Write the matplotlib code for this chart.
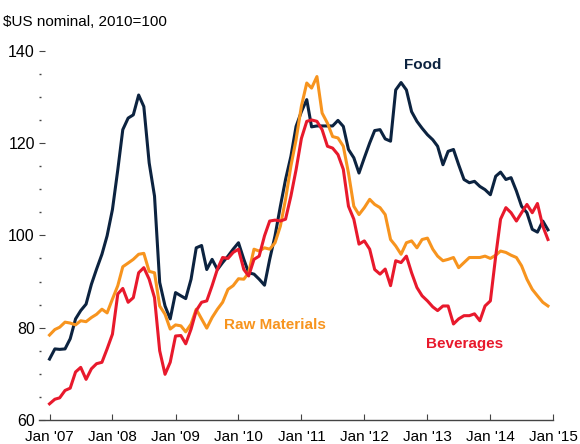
import numpy as np
import pandas as pd
import matplotlib
matplotlib.use('Agg')
import matplotlib.pyplot as plt
from matplotlib.ticker import MultipleLocator

# monthly index values, Jan 2007 - Dec 2014
food = [73.2, 75.4, 75.3, 75.4, 77.6, 81.9, 83.7, 85.1, 89.4, 92.7, 95.9, 99.9,
        105.6, 114.2, 122.9, 125.4, 126.1, 130.4, 127.9, 115.7, 108.5, 89.8, 84.7, 81.9,
        87.6, 86.9, 86.3, 90.5, 97.3, 97.8, 92.6, 94.8, 92.6, 94.1, 95.5, 97.0,
        98.4, 94.8, 91.9, 91.6, 90.5, 89.2, 94.8, 99.9, 106.3, 112.1, 117.1, 123.6,
        126.8, 129.4, 123.5, 123.7, 123.7, 123.7, 123.7, 124.9, 123.6, 118.6, 116.8, 113.5,
        116.8, 120.0, 122.7, 122.9, 120.9, 120.4, 131.5, 133.1, 131.5, 126.8, 124.7, 123.2,
        121.8, 120.7, 119.3, 115.3, 118.2, 118.6, 115.3, 112.1, 111.4, 111.7, 110.6, 109.9,
        108.8, 112.8, 113.7, 112.1, 112.5, 109.6, 106.3, 104.9, 101.3, 100.7, 103.1, 101.2]

raw_materials = [78.4, 79.6, 80.1, 81.2, 81.0, 80.6, 81.5, 81.3, 82.2, 82.9, 84.0, 83.2,
                 86.2, 89.1, 93.2, 94.0, 94.8, 95.9, 96.1, 92.2, 91.9, 84.7, 82.9, 79.7,
                 80.6, 80.4, 79.1, 80.8, 84.0, 81.9, 79.9, 82.2, 84.0, 85.5, 88.3, 89.1,
                 90.6, 90.5, 91.9, 97.0, 96.6, 97.3, 97.0, 98.4, 102.0, 107.8, 115.0, 120.7,
                 128.0, 133.0, 131.9, 134.4, 126.5, 124.3, 121.4, 121.1, 119.3, 113.5, 106.3, 104.5,
                 106.0, 107.8, 106.7, 106.0, 104.5, 99.1, 97.7, 95.9, 98.4, 98.8, 97.3, 99.1,
                 99.4, 97.0, 95.5, 94.5, 94.8, 95.2, 93.0, 94.1, 95.2, 95.2, 95.2, 95.5,
                 95.0, 95.7, 96.6, 96.3, 95.7, 95.2, 93.4, 90.5, 88.3, 86.9, 85.5, 84.7]

beverages = [63.5, 64.5, 64.8, 66.4, 66.9, 70.4, 71.4, 68.8, 71.1, 72.2, 72.5, 75.4,
             78.6, 87.3, 88.5, 85.5, 86.5, 91.9, 93.0, 90.5, 86.5, 75.0, 69.9, 72.5,
             78.2, 78.3, 76.5, 79.7, 83.7, 85.5, 85.8, 89.1, 92.7, 95.2, 95.0, 96.3,
             97.0, 92.6, 91.2, 94.8, 95.5, 99.9, 103.1, 103.3, 103.1, 103.5, 108.5, 114.2,
             121.0, 124.7, 125.0, 124.7, 122.9, 119.3, 118.9, 117.5, 114.3, 106.3, 103.5, 98.1,
             98.8, 97.0, 92.6, 91.6, 92.7, 89.1, 94.5, 94.1, 95.5, 91.9, 88.7, 86.9,
             85.8, 84.5, 83.7, 84.7, 84.7, 80.8, 81.9, 82.6, 82.6, 83.0, 81.5, 84.7,
             85.8, 95.5, 103.5, 106.0, 104.9, 103.1, 104.9, 106.7, 104.9, 106.9, 102.0, 99.1]

dates = pd.date_range('2007-01-01', periods=len(food), freq='MS')
tick_years = list(range(2007, 2016))

navy = '#0c2340'
orange = '#f7941e'
red = '#e8192c'

plt.rcParams['font.family'] = ['Liberation Sans', 'DejaVu Sans']

fig = plt.figure(figsize=(5.8, 4.44), dpi=100)
ax = fig.add_axes([39 / 580, 1 - 420 / 444, (553.3 - 39) / 580, (420 - 50.7) / 444])

ax.plot(dates, food, color=navy, lw=2.2, solid_joinstyle='round')
ax.plot(dates, raw_materials, color=orange, lw=2.2, solid_joinstyle='round')
ax.plot(dates, beverages, color=red, lw=2.2, solid_joinstyle='round')

ax.set_ylim(60, 140)
ax.set_xlim(pd.Timestamp('2006-11-01'), pd.Timestamp('2015-01-01'))

ticks = [pd.Timestamp('%d-01-01' % y) for y in tick_years]
ax.set_xticks(ticks)
ax.set_xticklabels(["Jan '%02d" % (y % 100) for y in tick_years], fontsize=11)
ax.tick_params(axis='x', direction='in', length=4, width=0.8, color='#444444', pad=7)

ax.yaxis.set_major_locator(MultipleLocator(20))
ax.yaxis.set_minor_locator(MultipleLocator(5))
ax.tick_params(axis='y', which='major', direction='in', length=4, width=0.8,
               color='#444444', labelsize=11.5, pad=3)
ax.tick_params(axis='y', which='minor', direction='in', length=1.2, width=1.0,
               color='#444444')

for s in ['top', 'right', 'left']:
    ax.spines[s].set_visible(False)
ax.spines['bottom'].set_color('#444444')
ax.spines['bottom'].set_linewidth(1.0)

fig.text(3 / 580, 1 - 22 / 444, '$US nominal, 2010=100', fontsize=11, va='center', ha='left')

ax.text(pd.Timestamp('2012-12-05'), 137.0, 'Food', color=navy, fontsize=11,
        fontweight='bold', ha='center', va='center')
ax.text(pd.Timestamp('2010-08-01'), 80.6, 'Raw Materials', color=orange, fontsize=11,
        fontweight='bold', ha='center', va='center')
ax.text(pd.Timestamp('2013-08-05'), 76.5, 'Beverages', color=red, fontsize=11,
        fontweight='bold', ha='center', va='center')

fig.savefig('out.png', dpi=100)
